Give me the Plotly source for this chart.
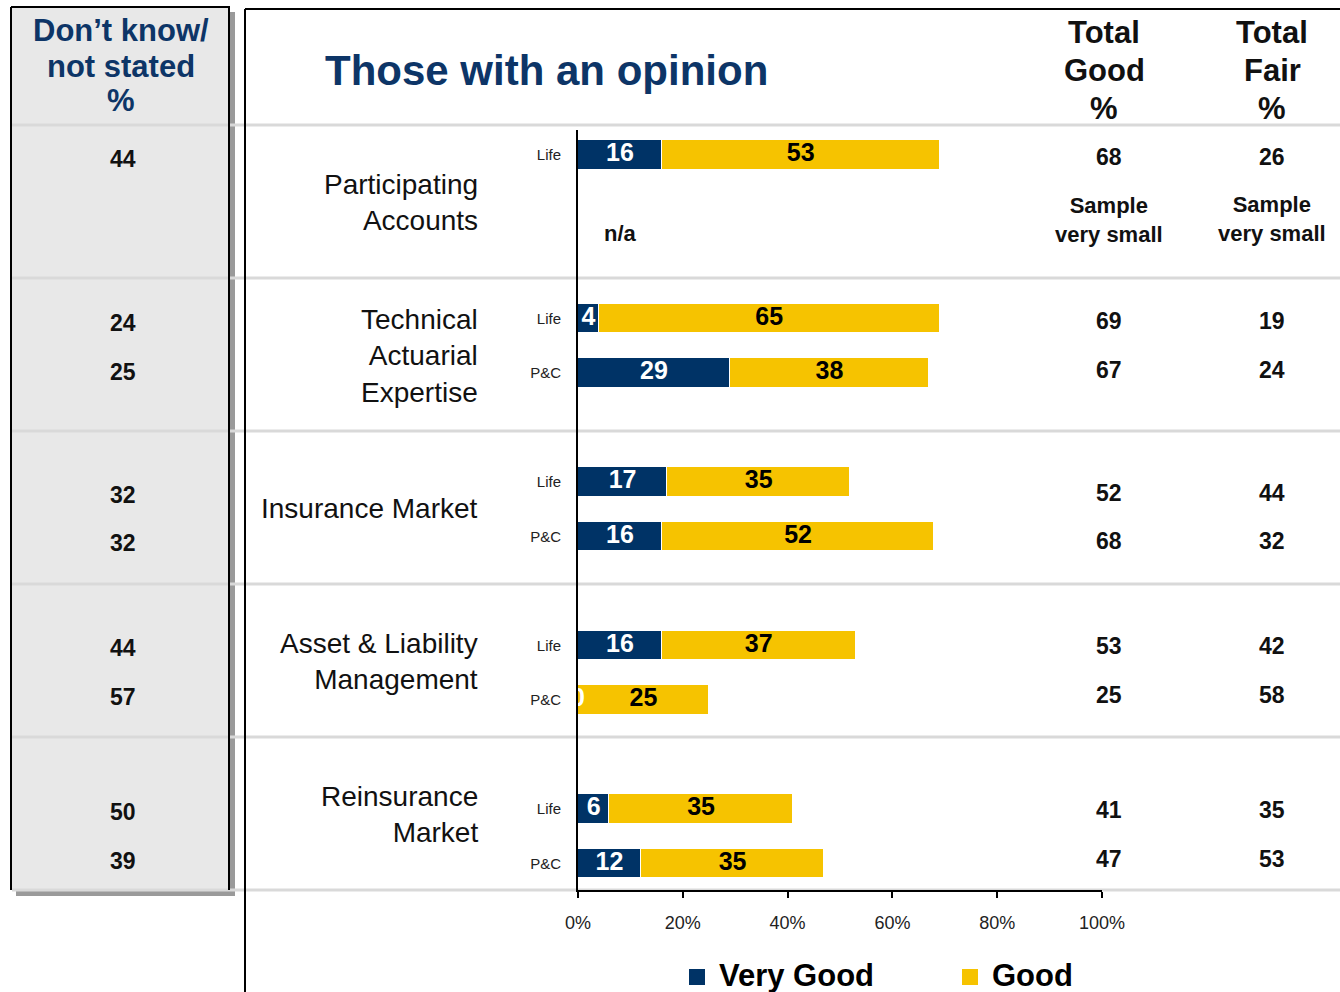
import plotly.graph_objects as go

# ---- data -------------------------------------------------------------
groups = ["Participating<br>Accounts",
          "Technical<br>Actuarial<br>Expertise",
          "Insurance Market",
          "Asset & Liability<br>Management",
          "Reinsurance<br>Market"]
segments = ["Life", "P&C"]

very_good_life = [16, 4, 17, 16, 6]
good_life = [53, 65, 35, 37, 35]
very_good_pc = [None, 29, 16, 0, 12]      # None: not available (n/a)
good_pc = [None, 38, 52, 25, 35]

dont_know_life = [44, 24, 32, 44, 50]
dont_know_pc = [None, 25, 32, 57, 39]
total_good_life = [68, 69, 52, 53, 41]
total_good_pc = [None, 67, 68, 25, 47]
total_fair_life = [26, 19, 44, 42, 35]
total_fair_pc = [None, 24, 32, 58, 53]

x_ticks = [0, 20, 40, 60, 80, 100]
x_tick_labels = ["0%", "20%", "40%", "60%", "80%", "100%"]

# ---- styling ----------------------------------------------------------
W, H = 1340, 992
NAVY = "#003366"
GOLD = "#F6C300"
TITLE_BLUE = "#0D3567"
FONT = "Arial"

# vertical pixel rows of the side tables (Life row, P&C row per group)
TABLE_ROW_LIFE = [157, 321, 493, 646, 810]
TABLE_ROW_PC = [None, 370, 541, 695, 859]


def fx(px):
    return px / W


def fy(py):
    return 1 - py / H


# each group uses three slots on the category axis: Life, P&C, spacer
rows_y, rows_vg, rows_g, tick_vals, tick_text = [], [], [], [], []
for i in range(len(groups)):
    for j, (vg_list, g_list) in enumerate([(very_good_life, good_life),
                                           (very_good_pc, good_pc)]):
        if vg_list[i] is None:
            continue
        pos = 3 * i + j
        rows_y.append(pos)
        rows_vg.append(vg_list[i])
        rows_g.append(g_list[i])
        tick_vals.append(pos)
        tick_text.append(segments[j])

fig = go.Figure()
fig.add_trace(go.Bar(
    x=rows_vg, y=rows_y, orientation="h", name="Very Good", width=0.55,
    marker=dict(color=NAVY, line=dict(color="white", width=1)),
    hoverinfo="x"))
fig.add_trace(go.Bar(
    x=rows_g, y=rows_y, orientation="h", name="Good", width=0.55,
    marker=dict(color=GOLD, line=dict(color="white", width=1)),
    hoverinfo="x"))

# value labels centred in each segment
fig.add_trace(go.Scatter(
    x=[v / 2 for v in rows_vg], y=rows_y, mode="text",
    text=[str(v) for v in rows_vg],
    textfont=dict(family=FONT, size=25, color="white", weight="bold"),
    cliponaxis=False, hoverinfo="skip"))
fig.add_trace(go.Scatter(
    x=[v + g / 2 for v, g in zip(rows_vg, rows_g)], y=rows_y, mode="text",
    text=[str(g) for g in rows_g],
    textfont=dict(family=FONT, size=25, color="black", weight="bold"),
    cliponaxis=False, hoverinfo="skip"))

shapes = []
# left "don't know" panel: fill, shadow, borders
shapes.append(dict(type="rect", xref="paper", yref="paper", layer="below",
                   x0=fx(12), x1=fx(229), y0=fy(890), y1=fy(8),
                   fillcolor="#E8E8E8", line=dict(width=0)))
shapes.append(dict(type="rect", xref="paper", yref="paper", layer="below",
                   x0=fx(230), x1=fx(235), y0=fy(896), y1=fy(12),
                   fillcolor="#9A9A9A", line=dict(width=0)))
shapes.append(dict(type="rect", xref="paper", yref="paper", layer="below",
                   x0=fx(16), x1=fx(235), y0=fy(896), y1=fy(891),
                   fillcolor="#9A9A9A", line=dict(width=0)))
# row separators
for py in [125, 278, 431, 584, 737, 890]:
    shapes.append(dict(type="line", xref="paper", yref="paper", layer="below",
                       x0=fx(12), x1=1, y0=fy(py), y1=fy(py),
                       line=dict(color="#D9D9D9", width=3)))
# black frame lines
for (x0, y0, x1, y1) in [(11, 7, 11, 890), (11, 7, 230, 7), (229, 7, 229, 890),
                         (245, 9, 1340, 9), (245, 9, 245, 992)]:
    shapes.append(dict(type="line", xref="paper", yref="paper", layer="below",
                       x0=fx(x0), x1=fx(x1), y0=fy(y0), y1=fy(y1),
                       line=dict(color="black", width=2)))

ann = []


def text(x, y, s, size, bold=False, color="#111111", xanchor="center",
         align="center"):
    ann.append(dict(x=x, y=y, xref="paper", yref="paper", text=s,
                    showarrow=False, xanchor=xanchor, yanchor="middle",
                    align=align,
                    font=dict(family=FONT, size=size, color=color,
                              weight="bold" if bold else "normal")))


# headers
text(fx(546), fy(70), "Those with an opinion", 42, True, TITLE_BLUE)
for s, py in zip(["Don\u2019t know/", "not stated", "%"], [30, 66, 100]):
    text(fx(121), fy(py), s, 31, True, TITLE_BLUE)
for s, py in zip(["Total", "Good", "%"], [33, 71, 108]):
    text(fx(1104), fy(py), s, 31, True, "#111111")
for s, py in zip(["Total", "Fair", "%"], [33, 71, 108]):
    text(fx(1272), fy(py), s, 31, True, "#111111")

# group labels
for g, py in zip(groups, [203, 356, 509, 661, 814]):
    text(fx(480), fy(py), g, 28, False, "#111111", xanchor="right", align="right")

# side tables
for i in range(len(groups)):
    for rows, dk, tg, tf in [(TABLE_ROW_LIFE, dont_know_life, total_good_life, total_fair_life),
                             (TABLE_ROW_PC, dont_know_pc, total_good_pc, total_fair_pc)]:
        py = rows[i]
        if py is None:
            continue
        text(fx(123), fy(py + 2), str(dk[i]), 23, True)
        text(fx(1109), fy(py), str(tg[i]), 23, True)
        text(fx(1272), fy(py), str(tf[i]), 23, True)

# participating accounts P&C: no bar
text(fx(620), fy(233), "n/a", 22, True)
text(fx(1109), fy(220), "Sample<br>very small", 22, True)
text(fx(1272), fy(219), "Sample<br>very small", 22, True)

# legend
for name, col, sx in [("Very Good", NAVY, 689), ("Good", GOLD, 962)]:
    shapes.append(dict(type="rect", xref="paper", yref="paper",
                       x0=fx(sx), x1=fx(sx + 16), y0=fy(985), y1=fy(969),
                       fillcolor=col, line=dict(width=0)))
    text(fx(sx + 28), fy(975), name, 31, True, "black", xanchor="left")

fig.update_layout(
    width=W, height=H,
    margin=dict(l=0, r=0, t=0, b=0, pad=0, autoexpand=False),
    autosize=False,
    paper_bgcolor="white", plot_bgcolor="rgba(0,0,0,0)",
    barmode="stack", bargap=0, showlegend=False,
    shapes=shapes, annotations=ann,
    font=dict(family=FONT),
    xaxis=dict(domain=[fx(578), fx(1102)], range=[0, 100],
               tickvals=x_ticks, ticktext=x_tick_labels,
               ticks="outside", ticklen=6, tickwidth=1.5, tickcolor="black",
               showline=True, linecolor="black", linewidth=2,
               showgrid=False, zeroline=False, ticklabelstandoff=9,
               automargin=False,
               tickfont=dict(family=FONT, size=18, color="#222222")),
    yaxis=dict(domain=[fy(890), fy(130)],
               range=[(890 - 155) / 54.5, (130 - 155) / 54.5],
               tickvals=tick_vals, ticktext=tick_text, ticks="",
               showline=True, linecolor="black", linewidth=2,
               showgrid=False, zeroline=False, ticklabelstandoff=12,
               automargin=False,
               tickfont=dict(family=FONT, size=15, color="#222222")),
)

fig.write_html("out.html", config={"responsive": False})
